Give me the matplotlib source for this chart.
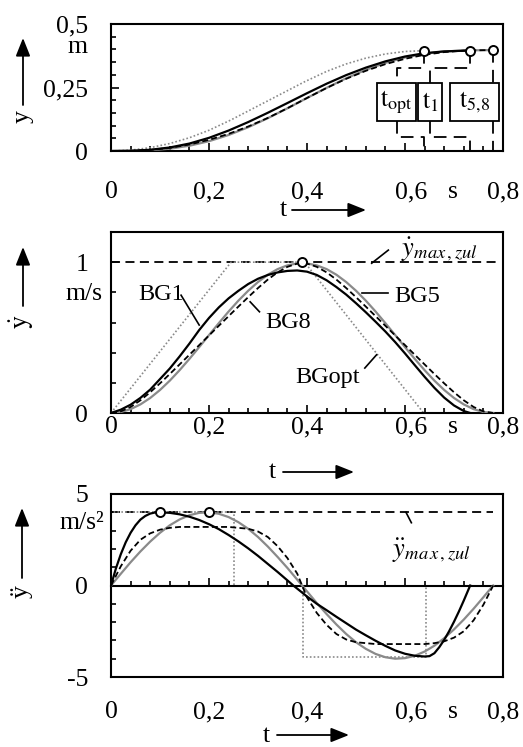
import numpy as np
import matplotlib
matplotlib.use("Agg")
import matplotlib.pyplot as plt
from matplotlib.patches import Rectangle, FancyArrowPatch
from matplotlib.lines import Line2D
from matplotlib.ticker import MultipleLocator
from matplotlib.transforms import blended_transform_factory as blend

plt.rcParams['font.family'] = ['Liberation Serif', 'DejaVu Serif']
plt.rcParams['mathtext.fontset'] = 'stix'

# ---------------- data ----------------
# position y(t) [m]
t_y1 = [0, .04, .08, .12, .16, .20, .24, .28, .32, .36, .40, .44, .48, .52, .56, .60, .64, .68, .72, .733]
y_bg1 = [0, .0009, .0048, .0139, .0293, .0518, .0805, .1139, .1505, .1888, .2275, .2649, .2988, .3282,
         .3529, .3720, .3851, .3922, .3948, .3949]
t_y58 = [0, .04, .08, .12, .16, .20, .24, .28, .32, .36, .40, .44, .48, .52, .56, .60, .64, .68, .72, .76, .78]
y_bg5 = [0, .0003, .0028, .0091, .0207, .0386, .0630, .0936, .1292, .1681, .2087, .2486, .2863, .3194,
         .3470, .3682, .3828, .3918, .3959, .3970, .3970]
y_bg8 = [0, .0006, .0042, .0123, .0255, .0439, .0675, .0964, .1302, .1683, .2087, .2482, .2843, .3157,
         .3420, .3630, .3788, .3894, .3951, .3969, .3970]
t_yopt = [0, .04, .08, .12, .16, .20, .245, .28, .32, .36, .395, .44, .48, .52, .56, .60, .638]
y_opt = [0, .0033, .0131, .0294, .0522, .0816, .1225, .1575, .1975, .2375, .2725, .3134, .3428, .3656,
         .3820, .3918, .3950]

# velocity dy/dt [m/s]
t_v58 = [round(0.02 * i, 2) for i in range(40)]
v_bg5 = [0, .0065, .0256, .0569, .0995, .1526, .2145, .2839, .3585, .4368, .5166, .5956, .6727, .7449,
         .8105, .8683, .9167, .9540, .9787, .9916, .9916, .9787, .9540, .9167, .8683, .8105, .7449,
         .6727, .5956, .5166, .4368, .3585, .2839, .2145, .1526, .0995, .0569, .0256, .0065, 0]
v_bg8 = [0, .0105, .040, .084, .1375, .1965, .2585, .322, .386, .450, .514, .578, .642, .7055, .768,
         .8285, .8845, .9325, .969, .9905, .9905, .969, .9325, .8845, .8285, .768, .7055, .642, .578,
         .514, .450, .386, .322, .2585, .1965, .1375, .084, .040, .0105, 0]
t_v1 = [round(0.02 * i, 2) for i in range(37)] + [.733]
v_bg1 = [0, .022, .055, .10, .155, .225, .295, .375, .46, .55, .63, .70, .76, .81, .855, .89, .915,
         .932, .942, .945, .937, .915, .88, .835, .785, .728, .668, .605, .54, .47, .395, .317, .24,
         .167, .102, .05, .013, 0]
t_vopt = [0, .245, .395, .638]
v_opt = [0, 1, 1, 0]

# acceleration d2y/dt2 [m/s^2]
t_a1 = ([0, .01, .02, .03, .04, .05, .06, .07, .08, .09, .10, .12, .14, .16, .18, .20, .22, .24, .26,
         .28, .30, .32, .34, .36, .372, .38, .40, .42, .44, .46, .48, .50, .52, .54, .56, .58, .60,
         .62, .64, .65, .66, .67, .68, .69, .70, .71, .72, .733])
a_bg1 = [0, .93, 1.71, 2.36, 2.88, 3.29, 3.60, 3.80, 3.93, 3.99, 4.0, 3.97, 3.89, 3.76, 3.58, 3.35,
         3.08, 2.76, 2.41, 2.03, 1.62, 1.18, .74, .28, 0, -.17, -.60, -1.0, -1.35, -1.71, -2.06,
         -2.41, -2.72, -3.02, -3.3, -3.55, -3.73, -3.84, -3.88, -3.86, -3.7, -3.37, -2.97, -2.5,
         -1.98, -1.42, -.82, 0]
a_bg5 = [0, .64, 1.27, 1.86, 2.40, 2.88, 3.29, 3.61, 3.84, 3.97, 4.00, 3.92, 3.74, 3.46, 3.10, 2.65,
         2.13, 1.56, .96, .32, -.32, -.96, -1.56, -2.13, -2.65, -3.10, -3.46, -3.74, -3.92, -4.00,
         -3.97, -3.84, -3.61, -3.29, -2.88, -2.40, -1.86, -1.27, -.64, 0]
a_bg8 = [0, 1.05, 1.9, 2.5, 2.85, 3.05, 3.15, 3.2, 3.2, 3.2, 3.2, 3.2, 3.2, 3.15, 3.1, 2.95, 2.65,
         2.15, 1.5, .65, -.65, -1.5, -2.15, -2.65, -2.95, -3.1, -3.15, -3.2, -3.2, -3.2, -3.2, -3.2,
         -3.2, -3.15, -3.05, -2.85, -2.5, -1.9, -1.05, 0]
t_aopt = [0, 0, .25, .25, .392, .392, .642, .642]
a_opt = [0, 4, 4, 0, 0, -3.9, -3.9, 0]

v_zul = 1.0
a_zul = 4.0
mark_v_t, mark_v = [0.39], [1.0]
mark_a_t, mark_a = [0.10, 0.20], [4.0, 4.0]

xtick_vals = [0, .2, .4, .6, .8]
xtick_text = ['0', '0,2', '0,4', '0,6', '0,8']
y1_ticks, y1_text = [0, .25, .5], ['0', '0,25', '0,5']
y2_ticks, y2_text = [0, 1], ['0', '1']
y3_ticks, y3_text = [-5, 0, 5], ['-5', '0', '5']

# ---------------- figure ----------------
W, H = 523, 747
fig = plt.figure(figsize=(W / 100, H / 100), dpi=100)


def P(x, y):
    return (x / W, 1 - y / H)


def add_ax(top, bottom):
    return fig.add_axes([111 / W, 1 - bottom / H, 392 / W, (bottom - top) / H])


ax1 = add_ax(24, 151)
ax2 = add_ax(232, 413)
ax3 = add_ax(494, 677)

FS = 18.5
GRAY = '#8a8a8a'
LW = 1.6
dash_bg = (0, (3.3, 1.8))
dot = (0, (1, 1.3))

for ax in (ax1, ax2, ax3):
    ax.set_xlim(0, 0.8)
    for sp in ax.spines.values():
        sp.set_linewidth(1.5)
    ax.xaxis.set_minor_locator(MultipleLocator(0.04))
    ax.set_xticks(xtick_vals)
    ax.set_xticklabels([])
    ax.tick_params(which='major', direction='in', length=5.5, width=1.2, labelsize=FS, pad=16.5,
                   top=False, right=False)
    ax.tick_params(which='minor', direction='in', length=3.8, width=1.2, top=False, right=False)

ax1.set_ylim(0, 0.5)
ax1.set_yticks(y1_ticks, y1_text)
ax1.yaxis.set_minor_locator(MultipleLocator(0.05))
ax2.set_ylim(0, 1.2)
ax2.set_yticks(y2_ticks, y2_text)
ax2.yaxis.set_minor_locator(MultipleLocator(0.2))
ax3.set_ylim(-5, 5)
ax3.set_yticks(y3_ticks, y3_text)
ax3.yaxis.set_minor_locator(MultipleLocator(1))
ax3.spines['bottom'].set_position(('data', 0))
ax3.add_line(Line2D([0, 1], [0, 0], transform=ax3.transAxes, color='k', lw=1.5, clip_on=False))

# x tick labels (manual, below frame)
for ax, base in ((ax1, 47), (ax2, 20), (ax3, 41)):
    tr = blend(ax.transData, ax.transAxes)
    for v, s in zip(xtick_vals, xtick_text):
        dx = 6 if s == '0,6' else 0
        ax.annotate(s, xy=(v, 0), xycoords=tr, xytext=(dx, -base), textcoords='offset pixels',
                    ha='center', va='baseline', fontsize=FS)
    ax.annotate('s', xy=(0.698, 0), xycoords=tr, xytext=(0, -base), textcoords='offset pixels',
                ha='center', va='baseline', fontsize=FS)

# unit labels on y
tr1 = blend(ax1.transAxes, ax1.transData)
ax1.annotate('m', xy=(0, .386), xycoords=tr1, xytext=(-23, 0), textcoords='offset pixels',
             ha='right', va='baseline', fontsize=FS)
tr2 = blend(ax2.transAxes, ax2.transData)
ax2.annotate('m/s', xy=(0, .748), xycoords=tr2, xytext=(-27.5, 0), textcoords='offset pixels',
             ha='center', va='baseline', fontsize=FS)
tr3 = blend(ax3.transAxes, ax3.transData)
ax3.annotate('m/s²', xy=(0, 3.1), xycoords=tr3, xytext=(-29, 0), textcoords='offset pixels',
             ha='center', va='baseline', fontsize=FS)

# ---------- panel 1: position ----------
ax1.plot(t_yopt, y_opt, color=GRAY, lw=1.2, ls=dot, zorder=2)
ax1.plot(t_y58, y_bg5, color=GRAY, lw=LW, zorder=3)
ax1.plot(t_y58, y_bg8, color='k', lw=1.3, ls=dash_bg, zorder=4)
ax1.plot(t_y1, y_bg1, color='k', lw=LW, zorder=5)

# leader paths for t_opt, t1, t5,8
y_up, y_bt, y_tp, y_lo = .327, .119, .267, .056
lead = dict(color='k', lw=1.3, ls=(0, (7, 4)), zorder=6)
tm = [(t_yopt[-1], y_opt[-1], .583), (t_y1[-1], y_bg1[-1], .651), (t_y58[-1], y_bg5[-1], t_y58[-1])]
for tt, yy, xc in tm:
    ax1.plot([tt, tt, xc, xc], [yy, y_up, y_up, y_tp], **lead)
    ax1.plot([xc, xc, tt, tt], [y_bt, y_lo, y_lo, 0], **lead)
boxes = [(.542, .622, r'$\mathrm{t_{opt}}$'), (.627, .675, r'$\mathrm{t_{1}}$'),
         (.692, .792, r'$\mathrm{t_{5{,}8}}$')]
for x0, x1, s in boxes:
    ax1.add_patch(Rectangle((x0, y_bt), x1 - x0, y_tp - y_bt, fc='white', ec='k', lw=1.3, zorder=7))
    ax1.text((x0 + x1) / 2, (y_bt + y_tp) / 2, s, ha='center', va='center', fontsize=FS, zorder=8)
ax1.plot([m[0] for m in tm], [m[1] for m in tm], 'o', ms=6.5, mfc='white', mec='k', mew=1.4,
         zorder=9, clip_on=False)

# ---------- panel 2: velocity ----------
ax2.plot([0, 0.79], [v_zul, v_zul], color='k', lw=1.3, ls=(0, (5, 3)), zorder=2)
ax2.plot(t_vopt, v_opt, color=GRAY, lw=1.2, ls=dot, zorder=2)
ax2.plot(t_v58, v_bg5, color=GRAY, lw=LW, zorder=3)
ax2.plot(t_v58, v_bg8, color='k', lw=1.3, ls=dash_bg, zorder=4)
ax2.plot(t_v1, v_bg1, color='k', lw=LW, zorder=5)
ax2.plot(mark_v_t, mark_v, 'o', ms=6.5, mfc='white', mec='k', mew=1.4, zorder=9)

ll = dict(color='k', lw=1.2, zorder=6)
ax2.plot([.143, .18], [.781, .583], **ll)
ax2.text(.102, .748, 'BG1', ha='center', va='baseline', fontsize=17.5)
ax2.plot([.284, .303], [.737, .671], **ll)
ax2.text(.362, .563, 'BG8', ha='center', va='baseline', fontsize=17.5)
ax2.plot([.512, .566], [.795, .795], **ll)
ax2.text(.625, .737, 'BG5', ha='center', va='baseline', fontsize=17.5)
ax2.plot([.518, .542], [.298, .386], **ll)
ax2.text(.442, .197, 'BGopt', ha='center', va='baseline', fontsize=17.5)
ax2.plot([.532, .566], [.993, 1.08], **ll)
ax2.text(.671, 1.087, r'$\dot{y}_{max\,,zul}$', ha='center', va='center', fontsize=19)

# ---------- panel 3: acceleration ----------
ax3.plot([0, 0.78], [a_zul, a_zul], color='k', lw=1.3, ls=(0, (5, 3)), zorder=2)
ax3.plot(t_aopt, a_opt, color=GRAY, lw=1.2, ls=dot, zorder=2)
ax3.plot(t_v58, a_bg5, color=GRAY, lw=LW, zorder=3)
ax3.plot(t_v58, a_bg8, color='k', lw=1.3, ls=dash_bg, zorder=4)
ax3.plot(t_a1, a_bg1, color='k', lw=LW, zorder=5)
ax3.plot(mark_a_t, mark_a, 'o', ms=6.5, mfc='white', mec='k', mew=1.4, zorder=9)
ax3.plot([.602, .613], [4.0, 3.43], **ll)
ax3.text(.654, 1.92, r'$\ddot{y}_{ma\,x\,,zul}$', ha='center', va='center', fontsize=19)

# ---------- axis labels with arrows ----------
arr = dict(arrowstyle='-|>,head_length=0.55,head_width=0.22', color='k', lw=1.3,
           shrinkA=0, shrinkB=0, mutation_scale=20)
for lab, (cx, cy), (ax0, ay0, ay1) in [
        ('y', (23, 117), (23, 105, 38)),
        (r'$\dot{\mathrm{y}}$', (22, 322), (23, 306, 247)),
        ('ÿ', (22, 592), (22, 578, 508))]:
    fig.text(*P(cx, cy), lab, rotation=90, ha='center', va='center', fontsize=FS)
    fig.add_artist(FancyArrowPatch(P(ax0, ay0), P(ax0, ay1), transform=fig.transFigure, **arr))

for (tx, tyb), (x0, x1, ya) in [((283.5, 216.5), (292, 366, 210)),
                                ((272, 478), (283, 354, 472)),
                                ((266, 742), (277, 349, 735))]:
    fig.text(*P(tx, tyb), 't', ha='center', va='baseline', fontsize=FS)
    fig.add_artist(FancyArrowPatch(P(x0, ya), P(x1, ya), transform=fig.transFigure, **arr))

fig.savefig('out.png', dpi=100)
